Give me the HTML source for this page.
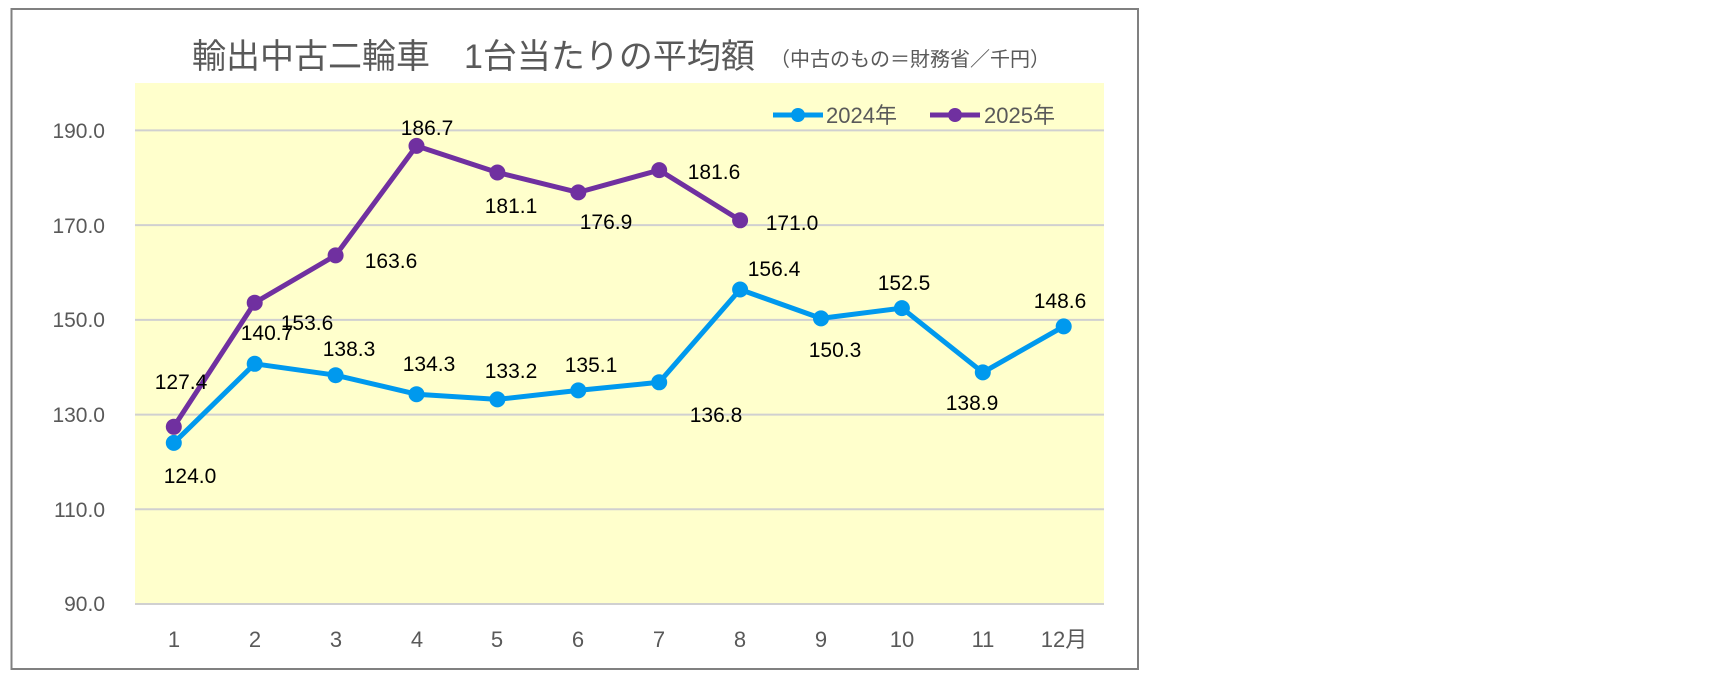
<!DOCTYPE html>
<html><head><meta charset="utf-8"><style>
html,body{margin:0;padding:0;background:#fff;}
svg{display:block;}
text{font-family:"Liberation Sans","Noto Sans CJK JP",sans-serif;}
</style></head><body>
<svg width="1727" height="678" viewBox="0 0 1727 678" xmlns="http://www.w3.org/2000/svg">
<rect x="11.5" y="9" width="1126.5" height="660" fill="#fff" stroke="#808080" stroke-width="2"/>
<rect x="135" y="83" width="969" height="521" fill="#ffffcc"/>
<g stroke="#d0d0d0" stroke-width="2">
<line x1="135" x2="1104" y1="130.4" y2="130.4"/>
<line x1="135" x2="1104" y1="225.1" y2="225.1"/>
<line x1="135" x2="1104" y1="319.9" y2="319.9"/>
<line x1="135" x2="1104" y1="414.6" y2="414.6"/>
<line x1="135" x2="1104" y1="509.3" y2="509.3"/>
<line x1="135" x2="1104" y1="604" y2="604"/>
</g>
<g fill="#595959" font-size="21" text-anchor="end">
<text x="105" y="138">190.0</text>
<text x="105" y="233">170.0</text>
<text x="105" y="327">150.0</text>
<text x="105" y="422">130.0</text>
<text x="105" y="517">110.0</text>
<text x="105" y="611">90.0</text>
</g>
<g fill="#595959" font-size="22" text-anchor="middle">
<text x="174" y="647">1</text><text x="255" y="647">2</text><text x="336" y="647">3</text>
<text x="417" y="647">4</text><text x="497" y="647">5</text><text x="578" y="647">6</text>
<text x="659" y="647">7</text><text x="740" y="647">8</text><text x="821" y="647">9</text>
<text x="902" y="647">10</text><text x="983" y="647">11</text><text x="1064" y="647">12月</text>
</g>
<text x="192" y="68" font-size="34" fill="#595959">輸出中古二輪車　1台当たりの平均額</text>
<text x="770" y="66" font-size="20" fill="#595959">（中古のもの＝財務省／千円）</text>
<polyline fill="none" stroke="#0099ee" stroke-width="5" stroke-linejoin="round" points="173.8,442.9 254.7,363.8 335.6,375.2 416.5,394.2 497.4,399.4 578.3,390.4 659.2,382.3 740.1,289.5 821,318.4 901.9,308.1 982.8,372.4 1063.7,326.4"/>
<g fill="#0099ee">
<circle cx="173.8" cy="442.9" r="8"/><circle cx="254.7" cy="363.8" r="8"/><circle cx="335.6" cy="375.2" r="8"/><circle cx="416.5" cy="394.2" r="8"/><circle cx="497.4" cy="399.4" r="8"/><circle cx="578.3" cy="390.4" r="8"/><circle cx="659.2" cy="382.3" r="8"/><circle cx="740.1" cy="289.5" r="8"/><circle cx="821" cy="318.4" r="8"/><circle cx="901.9" cy="308.1" r="8"/><circle cx="982.8" cy="372.4" r="8"/><circle cx="1063.7" cy="326.4" r="8"/>
</g>
<polyline fill="none" stroke="#7030a0" stroke-width="5" stroke-linejoin="round" points="173.8,426.8 254.7,302.7 335.6,255.4 416.5,145.9 497.4,172.5 578.3,192.4 659.2,170.1 740.1,220.3"/>
<g fill="#7030a0">
<circle cx="173.8" cy="426.8" r="8"/><circle cx="254.7" cy="302.7" r="8"/><circle cx="335.6" cy="255.4" r="8"/><circle cx="416.5" cy="145.9" r="8"/><circle cx="497.4" cy="172.5" r="8"/><circle cx="578.3" cy="192.4" r="8"/><circle cx="659.2" cy="170.1" r="8"/><circle cx="740.1" cy="220.3" r="8"/>
</g>
<g font-size="21" fill="#000" text-anchor="middle">
<text x="190" y="483">124.0</text><text x="267" y="340">140.7</text><text x="349" y="356">138.3</text>
<text x="429" y="371">134.3</text><text x="511" y="378">133.2</text><text x="591" y="372">135.1</text>
<text x="716" y="422">136.8</text><text x="774" y="276">156.4</text><text x="835" y="357">150.3</text>
<text x="904" y="290">152.5</text><text x="972" y="410">138.9</text><text x="1060" y="308">148.6</text>
<text x="181" y="389">127.4</text><text x="307" y="330">153.6</text><text x="391" y="268">163.6</text>
<text x="427" y="135">186.7</text><text x="511" y="213">181.1</text><text x="606" y="229">176.9</text>
<text x="714" y="179">181.6</text><text x="792" y="230">171.0</text>
</g>
<line x1="773" x2="823" y1="115" y2="115" stroke="#0099ee" stroke-width="5"/>
<circle cx="798" cy="115" r="7" fill="#0099ee"/>
<text x="826" y="123" font-size="22" fill="#595959">2024年</text>
<line x1="930" x2="980" y1="115" y2="115" stroke="#7030a0" stroke-width="5"/>
<circle cx="955" cy="115" r="7" fill="#7030a0"/>
<text x="984" y="123" font-size="22" fill="#595959">2025年</text>
</svg>
</body></html>
